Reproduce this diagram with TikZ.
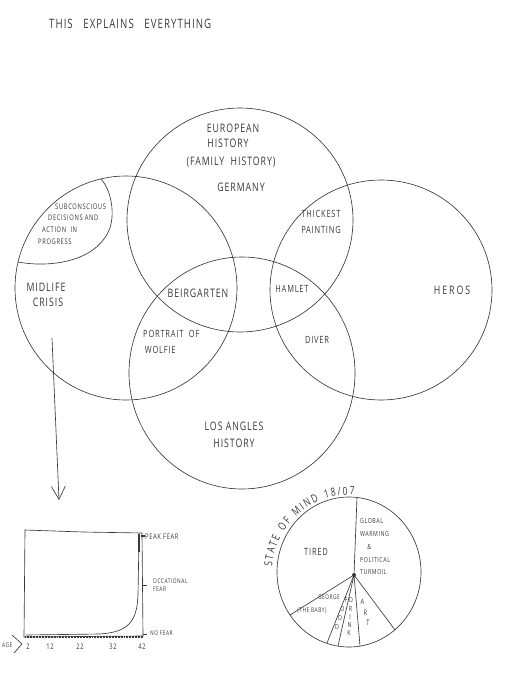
\documentclass[tikz,border=0pt]{standalone}
\usepackage{fontspec}
\newfontfamily\hand[FakeStretch=0.75, LetterSpace=8]{Open Sans}
\usetikzlibrary{arrows.meta, decorations.text}
\definecolor{pencil}{HTML}{3A3A3A}

\begin{document}
\begin{tikzpicture}[
    x=0.03cm, y=0.03cm,
    >={Straight Barb[length=3.9mm, width=4.2mm]},
    every node/.style={text=pencil, inner sep=0pt},
    ink/.style={draw=pencil, line width=0.55pt},
    lbl/.style={font=\hand\fontsize{10}{15}\selectfont, align=center},
    mid/.style={font=\hand\fontsize{8.5}{13}\selectfont, align=center},
    sml/.style={font=\hand\fontsize{6.6}{9}\selectfont, align=center},
    tny/.style={font=\hand\fontsize{5.5}{7}\selectfont, align=center},
    stack/.style={font=\hand\fontsize{6}{8}\selectfont},
  ]

  % Background
  \useasboundingbox (0,0) rectangle (509,-700);
  \fill[white] (0,0) rectangle (509,-700);

  % Title
  \node[font=\hand\fontsize{11}{13}\selectfont, anchor=west] (title) at (49,-24)
    {THIS\ \ \ EXPLAINS\ \ \ EVERYTHING};

  % === Venn circles ===
  \draw[ink] (240,-220) ellipse [x radius=113, y radius=112]; % europe
  \draw[ink] (126,-288) ellipse [x radius=111, y radius=112]; % midlife
  \draw[ink] (242,-373) ellipse [x radius=113, y radius=116]; % los angeles
  \draw[ink] (381,-290) ellipse [x radius=111, y radius=110]; % heros

  % Subconscious pocket inside the midlife circle
  \draw[ink] (18,-262) .. controls (50,-268) and (97,-262) .. (110,-228)
    .. controls (115,-212) and (111,-190) .. (101,-179);

  % === Venn labels ===
  \node[lbl] (europe) at (233,-128) {EUROPEAN};
  \node[lbl] (europehist) at (228,-143) {HISTORY};
  \node[lbl] (family) at (231,-162) {(FAMILY\ \ HISTORY)};
  \node[lbl] (germany) at (241,-187) {GERMANY};

  \node[sml, anchor=west] (subc1) at (55,-207) {SUBCONSCIOUS};
  \node[sml, anchor=west] (subc2) at (48,-218) {DECISIONS AND};
  \node[sml, anchor=west] (subc3) at (42,-230) {ACTION\ \ IN};
  \node[sml, anchor=west] (subc4) at (38,-242) {PROGRESS};

  \node[lbl] (midlife) at (46,-287) {MIDLIFE};
  \node[lbl] (crisis) at (48,-302) {CRISIS};

  \node[lbl] (beir) at (198,-293) {BEIRGARTEN};
  \node[mid] (thickest) at (321,-222) {THICKEST\\PAINTING};
  \node[mid] (hamlet) at (292,-289) {HAMLET};
  \node[lbl] (heros) at (452,-290) {H\,E\,R\,O\,S};
  \node[mid, align=left, anchor=west] (portrait) at (143,-342) {PORTRAIT\ \ OF\\\,WOLFIE};
  \node[mid] (diver) at (317,-340) {DIVER};
  \node[lbl] (losangeles) at (234,-435) {LOS\ ANGLES\\HISTORY};

  % Arrow down to the chart
  \coordinate (crisisfoot) at (52,-338);
  \coordinate (charttop) at (59,-500);
  \draw[ink, ->] (crisisfoot) -- (charttop);

  % === Fear chart ===
  \draw[ink] (25,-530) -- (83,-532) -- (142,-533) -- (143,-636) -- (24,-637) -- cycle;
  \draw[ink] (26,-635) -- (100,-634)
    .. controls (128,-632) and (137,-622) .. (138,-595) -- (139,-537);
  \draw[pencil, line width=1.8pt] (139,-534) -- (139,-552);
  \draw[pencil, line width=2.2pt, dash pattern=on 0.4pt off 0.9pt] (25,-637) -- (143,-637);
  \draw[pencil, line width=1.2pt] (141,-536) -- (145,-536);
  \draw[ink] (143,-585) -- (147,-585);
  \draw[ink] (143,-634) -- (147,-634);

  \node[sml, anchor=west] (peak) at (145,-537) {PEAK\ FEAR};
  \node[tny, align=left, anchor=west] (occasional) at (153,-585) {OCCATIONAL\\FEAR};
  \node[tny, anchor=west] (nofear) at (150,-633) {NO\ FEAR};

  \foreach \a/\x in {2/28, 12/50, 22/80, 32/113, 42/142}
    \node[sml] (age\a) at (\x,-647) {\a};
  \node[tny, anchor=west] (agelbl) at (2,-645) {AGE};
  \draw[ink] (12,-635) -- (22,-644) -- (14,-653);

  % === Pie chart: state of mind ===
  \draw[ink] (349,-572) ellipse [x radius=72, y radius=75];
  \coordinate (hub) at (354,-575);
  \coordinate (rimtop) at (357,-497);
  \coordinate (rimbaby) at (290,-615);
  \coordinate (rimfood) at (327,-643);
  \coordinate (rimdrink) at (338,-646);
  \coordinate (rimart) at (360,-646);
  \coordinate (rimglobal) at (395,-630);
  \foreach \r in {rimtop, rimbaby, rimfood, rimdrink, rimart, rimglobal}
    \draw[ink] (hub) -- (\r);
  \fill[pencil] (hub) circle (2);

  \path[decorate, decoration={text along path, text align=fit to path,
      text={|\color{pencil}\hand\fontsize{9.5}{12}\selectfont|STATE OF MIND 18/07}}]
    ([shift={(176:77)}]349,-572) arc[start angle=176, end angle=86, radius=77];

  \node[mid] (tired) at (316,-552) {TIRED};
  \node[font=\hand\fontsize{6}{11}\selectfont, align=left, anchor=north west]
    (global) at (360,-518) {GLOBAL\\WARMING\\\quad\&\\POLITICAL\\TURMOIL};
  \node[tny] (george) at (329,-597) {GEORGE};
  \node[tny] (baby) at (312,-611) {(THE BABY)};
  \foreach \l/\x/\y [count=\i] in {F/346/600, O/342.5/609, O/340/618, D/337/627}
    \node[stack] (food\i) at (\x,-\y) {\l};
  \foreach \l/\x/\y [count=\i] in {D/351/600, R/350.5/609, I/350/617, N/349.5/625, K/349/633}
    \node[stack] (drink\i) at (\x,-\y) {\l};
  \foreach \l/\x/\y [count=\i] in {A/362.5/602, R/365.5/612.5, T/368/623}
    \node[font=\hand\fontsize{6.5}{8}\selectfont] (art\i) at (\x,-\y) {\l};

\end{tikzpicture}
\end{document}
